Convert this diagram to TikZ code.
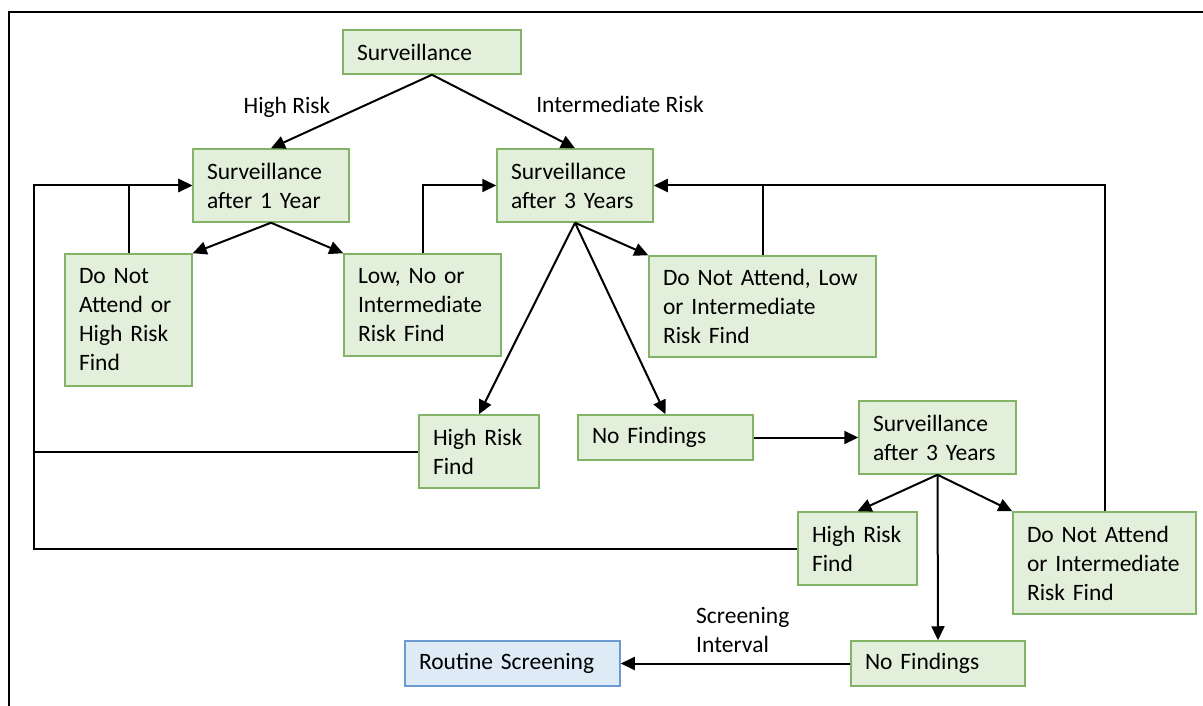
\documentclass[tikz,border=0pt]{standalone}
\usepackage{fontspec}
\setmainfont{Carlito}
\usetikzlibrary{arrows.meta}
\definecolor{gfill}{HTML}{E2EFDA}
\definecolor{gdraw}{HTML}{82B366}
\definecolor{bfill}{HTML}{DEEBF7}
\definecolor{bdraw}{HTML}{6C9BD2}
\tikzset{
  box/.style={draw=gdraw, fill=gfill, line width=1.5pt, align=left, inner xsep=14pt, inner ysep=0pt,
    font=\fontsize{23.5}{29}\selectfont, anchor=center},
  bluebox/.style={box, draw=bdraw, fill=bfill},
  conn/.style={line width=2pt, draw=black},
  arr/.style={conn, -{Triangle[length=14pt,width=13pt]}},
  lbl/.style={font=\fontsize{23.5}{29}\selectfont, align=left, inner sep=0pt}
}
\newcommand{\bx}[7]{\node[#1, text width=#5pt-28pt, minimum height=#6pt] (#2) at (#3,#4) {#7};}
\begin{document}
\begin{tikzpicture}[x=1pt,y=-1pt]
\useasboundingbox (0,0) rectangle (1203,706);
\draw[line width=2pt] (9,706) -- (9,12) -- (1203,12);

\bx{box}{S0}{432}{52}{178}{44}{Surveillance}
\bx{box}{S1}{271}{185.5}{156}{73}{Surveillance\\after 1 Year}
\bx{box}{S3}{575}{185.5}{156}{73}{Surveillance\\after 3 Years}
\bx{box}{DNA1}{128.5}{320}{127}{132}{Do Not\\Attend or\\High Risk\\Find}
\bx{box}{LNI}{422.5}{305}{157}{102}{Low, No or\\Intermediate\\Risk Find}
\bx{box}{DNA3}{762.5}{306.5}{227}{101}{Do Not Attend, Low\\or Intermediate\\Risk Find}
\bx{box}{HRF1}{479}{451.5}{120}{73}{High Risk\\Find}
\bx{box}{NF1}{665.5}{437.5}{175}{45}{No Findings}
\bx{box}{S3b}{937.5}{437.5}{157}{73}{Surveillance\\after 3 Years}
\bx{box}{HRF2}{857.5}{548.5}{119}{73}{High Risk\\Find}
\bx{box}{DNA2}{1104.5}{563}{183}{102}{Do Not Attend\\or Intermediate\\Risk Find}
\bx{box}{NF2}{938}{663.5}{174}{45}{No Findings}
\bx{bluebox}{RS}{512.5}{663.5}{215}{45}{Routine Screening}

\node[lbl] (hr) at (287,107) {High Risk};
\node[lbl] (ir) at (620,104) {Intermediate Risk};
\node[lbl, anchor=west] (si) at (696,630) {Screening\\Interval};

\draw[arr] (S0.south) -- (S1.north);
\draw[arr] (S0.south) -- (S3.north);
\draw[arr] (S1.south) -- (DNA1.north east);
\draw[arr] (S1.south) -- (LNI.north west);
\draw[arr] (S3.south) -- (HRF1.north);
\draw[arr] (S3.south) -- (NF1.north);
\draw[arr] (S3.south) -- (DNA3.north west);
\draw[arr] (S3b.south) -- (HRF2.north);
\draw[arr] (S3b.south) -- (NF2.north);
\draw[arr] (S3b.south) -- (DNA2.north west);
\draw[arr] (NF1.east) -- (S3b.west);
\draw[arr] (NF2.west) -- (RS.east);

\coordinate (L1) at (34,185.5);
\draw[arr] (DNA1.north) |- (S1.west);
\draw[arr] (HRF2.west) -| (L1) -- (S1.west);
\draw[conn] (HRF1.west) -- (HRF1.west -| L1);
\draw[arr] (LNI.north) |- (S3.west);
\draw[arr] (DNA2.north) |- (S3.east);
\draw[conn] (DNA3.north) -- (DNA3.north |- S3.east);
\end{tikzpicture}
\end{document}
